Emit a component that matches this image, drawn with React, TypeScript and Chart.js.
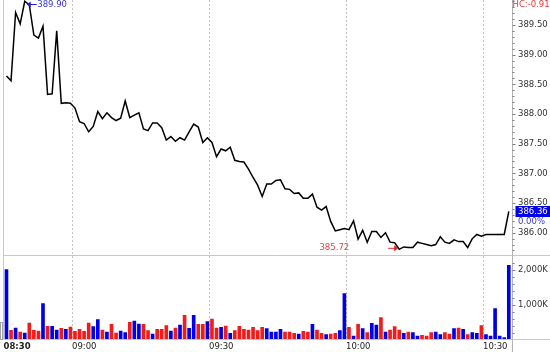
import React, { useEffect, useRef } from 'react';
import { Chart, registerables } from 'chart.js';

Chart.register(...registerables);

// ---------- data ----------
const SESSION_START = '08:45';

const PRICE = [
  388.64, 388.56, 389.71, 389.52, 389.90, 389.84, 389.33, 389.28, 389.48, 388.33,
  388.34, 389.40, 388.18, 388.19, 388.18, 388.10, 387.87, 387.84, 387.70, 387.79,
  388.04, 387.92, 388.02, 387.94, 387.89, 387.93, 388.22, 387.94, 387.98, 388.02,
  387.75, 387.72, 387.85, 387.85, 387.77, 387.56, 387.62, 387.54, 387.60, 387.56,
  387.70, 387.83, 387.78, 387.52, 387.60, 387.52, 387.28, 387.41, 387.38, 387.44,
  387.22, 387.20, 387.19, 387.07, 386.93, 386.80, 386.61, 386.82, 386.82, 386.88,
  386.89, 386.74, 386.73, 386.66, 386.67, 386.58, 386.58, 386.65, 386.43, 386.38,
  386.44, 386.19, 386.03, 386.05, 386.07, 386.05, 386.20, 385.89, 386.04, 385.84,
  386.02, 386.02, 385.92, 386.00, 385.84, 385.83, 385.72, 385.76, 385.75, 385.75,
  385.84, 385.82, 385.80, 385.78, 385.80, 385.93, 385.84, 385.82, 385.88, 385.85,
  385.85, 385.75, 385.90, 385.97, 385.94, 385.97, 385.97, 385.97, 385.97, 385.97,
  386.36,
];

const VOLUME_K = [
  1995, 262, 328, 214, 186, 471, 262, 243, 1023, 376,
  376, 271, 319, 290, 357, 233, 290, 233, 471, 367,
  566, 271, 214, 433, 186, 243, 195, 490, 528, 443,
  433, 252, 157, 290, 290, 395, 243, 328, 414, 690,
  319, 690, 433, 433, 509, 585, 328, 347, 386, 176,
  252, 376, 290, 271, 347, 252, 347, 309, 214, 214,
  290, 214, 214, 176, 157, 233, 214, 433, 271, 176,
  138, 157, 176, 252, 1309, 347, 100, 433, 309, 195,
  462, 414, 624, 214, 271, 367, 271, 176, 214, 195,
  100, 119, 100, 195, 214, 138, 195, 157, 309, 328,
  290, 138, 195, 176, 395, 138, 100, 880, 100, 52,
  2118,
];

// B = up bar (blue), R = down bar (red)
const BAR_DIRECTION =
  'BRBRBRRRBR' + 'BBRBRRRRRB' + 'BRBRRBBRBB' + 'RRBRRRBRBR' + 'BBRRBRRBRB' +
  'RRRRRRRBBB' + 'BRRRBRRBRR' + 'BRRBBRBRBR' + 'BBRBRRRBRB' + 'BRRRBBRRBR' +
  'BRBBRBBBBBB';

const PRICE_TICKS = [386.0, 386.5, 387.0, 387.5, 388.0, 388.5, 389.0, 389.5];
const VOLUME_TICKS = [1000, 2000];
const X_TICK_LABELS = ['08:30', '09:00', '09:30', '10:00', '10:30'];
const HC_LABEL = 'HC:-0.91';
const CHANGE_LABEL = '0.00%';

// ---------- helpers / layout ----------
const FONT = '"DejaVu Sans", Verdana, sans-serif';
const FS = 8.5;
const toMin = (s: string) => {
  const [h, m] = s.split(':').map(Number);
  return h * 60 + m;
};
const pad2 = (n: number) => String(n).padStart(2, '0');
const TIMES = PRICE.map((_, i) => {
  const t = toMin(SESSION_START) + i;
  return `${pad2(Math.floor(t / 60))}:${pad2(t % 60)}`;
});
const BAR_OFFSET = 0.65;
const X_MIN = toMin(SESSION_START);
const X_MAX = toMin('10:36') + 0.35;
const P_MIN = 385.607;
const P_MAX = 389.921;
const V_MAX = 2386;

const UP = '#0000e6';
const DOWN = '#f01c1c';

const decor = {
  id: 'decor',
  afterDraw(chart: any) {
    const { ctx, chartArea, scales } = chart;
    const xs = scales.x;
    const yp = scales.yp;
    const yv = scales.yv;
    const W = chart.width;
    const H = chart.height;
    const ln = (x1: number, y1: number, x2: number, y2: number) => {
      ctx.beginPath();
      ctx.moveTo(x1, y1);
      ctx.lineTo(x2, y2);
      ctx.stroke();
    };
    ctx.save();
    ctx.lineWidth = 1;
    ctx.strokeStyle = '#c8c8c8';
    const L = Math.floor(chartArea.left) + 0.5;
    const R = Math.round(chartArea.right) + 0.5;
    ln(L, 0, L, chartArea.bottom);
    ln(L, Math.round(yp.bottom) - 0.5, W, Math.round(yp.bottom) - 0.5);
    ln(L, Math.round(chartArea.bottom) - 0.5, W, Math.round(chartArea.bottom) - 0.5);
    ctx.strokeStyle = '#b4b4b4';
    ln(R, 0, R, H);
    // small box bottom-left
    ctx.strokeStyle = '#a0a0a0';
    ctx.strokeRect(0.5, 322.5, 2, 17);

    // axis tick marks
    ctx.strokeStyle = '#808080';
    for (let k = Math.ceil(P_MIN * 10); k <= Math.floor(P_MAX * 10); k++) {
      const y = Math.round(yp.getPixelForValue(k / 10)) + 0.5;
      ln(R, y, R + (k % 5 === 0 ? 3 : 2), y);
    }
    for (let k = 200; k <= V_MAX; k += 200) {
      const y = Math.round(yv.getPixelForValue(k)) + 0.5;
      ln(R, y, R + (k % 1000 === 0 ? 3 : 2), y);
    }

    ctx.font = `${FS}px ${FONT}`;
    ctx.textBaseline = 'middle';

    // HC label
    ctx.fillStyle = '#e23a3a';
    ctx.textAlign = 'left';
    ctx.fillText(HC_LABEL, R, 5);

    // max marker
    let iMax = 0;
    let iMin = 0;
    PRICE.forEach((v, i) => {
      if (v > PRICE[iMax]) iMax = i;
      if (v < PRICE[iMin]) iMin = i;
    });
    const xOf = (i: number) => xs.getPixelForValue(toMin(TIMES[i]) + BAR_OFFSET);
    {
      const px = xOf(iMax);
      const py = Math.max(yp.getPixelForValue(PRICE[iMax]), 4.5);
      ctx.strokeStyle = '#2020d0';
      ctx.fillStyle = '#2020d0';
      ln(px + 3, py, px + 12, py);
      ctx.beginPath();
      ctx.moveTo(px + 2, py);
      ctx.lineTo(px + 6, py - 3);
      ctx.lineTo(px + 6, py + 3);
      ctx.closePath();
      ctx.fill();
      ctx.fillStyle = '#3535d0';
      ctx.fillText(PRICE[iMax].toFixed(2), px + 12.5, py);
    }
    // min marker
    {
      const px = xOf(iMin);
      const py = yp.getPixelForValue(PRICE[iMin]) - 1;
      ctx.strokeStyle = '#e02020';
      ctx.fillStyle = '#e02020';
      ln(px - 11, py, px - 4, py);
      ctx.beginPath();
      ctx.moveTo(px - 1, py);
      ctx.lineTo(px - 5, py - 3);
      ctx.lineTo(px - 5, py + 3);
      ctx.closePath();
      ctx.fill();
      ctx.fillStyle = '#e04848';
      ctx.textAlign = 'right';
      ctx.fillText(PRICE[iMin].toFixed(2), px - 50, py);
    }
    // last value box
    {
      const last = PRICE[PRICE.length - 1];
      const y = yp.getPixelForValue(last);
      ctx.fillStyle = '#0000ee';
      ctx.fillRect(R + 3, Math.round(y - 5.5), W - R - 3, 11);
      ctx.fillStyle = '#ffffff';
      ctx.textAlign = 'left';
      ctx.fillText(last.toFixed(2), R + 5.5, y);
      ctx.fillStyle = '#3a3ad8';
      ctx.fillText(CHANGE_LABEL, R + 5.5, y + 10.5);
    }
    ctx.restore();
  },
};

export default function App() {
  const ref = useRef<HTMLCanvasElement | null>(null);

  useEffect(() => {
    if (!ref.current) return;
    const linePts = PRICE.map((v, i) => ({ x: toMin(TIMES[i]) + BAR_OFFSET, y: v }));
    const volPts = VOLUME_K.map((v, i) => ({ x: toMin(TIMES[i]) + BAR_OFFSET, y: v }));
    const tickFont = { family: FONT, size: FS };

    const chart = new Chart(ref.current, {
      type: 'line',
      data: {
        datasets: [
          {
            type: 'line',
            data: linePts,
            xAxisID: 'x',
            yAxisID: 'yp',
            borderColor: '#000000',
            borderWidth: 1.5,
            pointRadius: 0,
            tension: 0,
            fill: false,
          },
          {
            type: 'bar',
            data: volPts,
            xAxisID: 'x',
            yAxisID: 'yv',
            backgroundColor: BAR_DIRECTION.split('').map((c) => (c === 'B' ? UP : DOWN)),
            borderWidth: 0,
            barThickness: 3,
          },
        ],
      } as any,
      options: {
        animation: false,
        responsive: false,
        maintainAspectRatio: false,
        devicePixelRatio: 1,
        layout: { padding: { left: 3.5, right: 0, top: 0, bottom: 0 } },
        plugins: { legend: { display: false }, tooltip: { enabled: false } },
        events: [],
        scales: {
          x: {
            type: 'linear',
            position: 'bottom',
            min: X_MIN,
            max: X_MAX,
            offset: false,
            afterBuildTicks: (s: any) => {
              s.ticks = X_TICK_LABELS.map((l) => ({ value: Math.max(toMin(l), X_MIN) }));
            },
            afterFit: (s: any) => {
              s.height = 12.5;
              s.paddingLeft = 0;
              s.paddingRight = 0;
            },
            ticks: {
              autoSkip: false,
              maxRotation: 0,
              align: 'start',
              padding: 2,
              color: '#222222',
              font: (c: any) => ({ ...tickFont, weight: c.index === 0 ? 'bold' : 'normal' }),
              callback: (_v: any, i: number) => X_TICK_LABELS[i],
            },
            grid: {
              offset: false,
              drawTicks: false,
              lineWidth: 1,
              color: (c: any) => (c.index === 0 ? 'rgba(0,0,0,0)' : '#c4c4c4'),
            },
            border: { display: false, dash: [2, 2] },
          },
          yp: {
            type: 'linear',
            position: 'right',
            stack: 'panels',
            stackWeight: 256,
            min: P_MIN,
            max: P_MAX,
            afterBuildTicks: (s: any) => {
              s.ticks = PRICE_TICKS.map((v) => ({ value: v }));
            },
            afterFit: (s: any) => {
              s.width = 38;
              s.paddingTop = 0;
              s.paddingBottom = 0;
            },
            ticks: {
              padding: 6,
              color: '#333333',
              font: tickFont,
              callback: (v: any) => Number(v).toFixed(2),
            },
            grid: { display: false, drawTicks: false },
            border: { display: false },
          },
          yv: {
            type: 'linear',
            position: 'right',
            stack: 'panels',
            stackWeight: 83.5,
            min: 0,
            max: V_MAX,
            afterBuildTicks: (s: any) => {
              s.ticks = VOLUME_TICKS.map((v) => ({ value: v }));
            },
            afterFit: (s: any) => {
              s.width = 38;
              s.paddingTop = 0;
              s.paddingBottom = 0;
            },
            ticks: {
              padding: 6,
              color: '#333333',
              font: tickFont,
              callback: (v: any) => Number(v).toLocaleString('en-US') + 'K',
            },
            grid: { display: false, drawTicks: false },
            border: { display: false },
          },
        },
      } as any,
      plugins: [decor],
    });
    return () => chart.destroy();
  }, []);

  return (
    <div style={{ position: 'absolute', left: 0, top: 0, width: 550, height: 352, background: '#ffffff' }}>
      <canvas ref={ref} width={550} height={352} style={{ display: 'block', width: 550, height: 352 }} />
    </div>
  );
}
